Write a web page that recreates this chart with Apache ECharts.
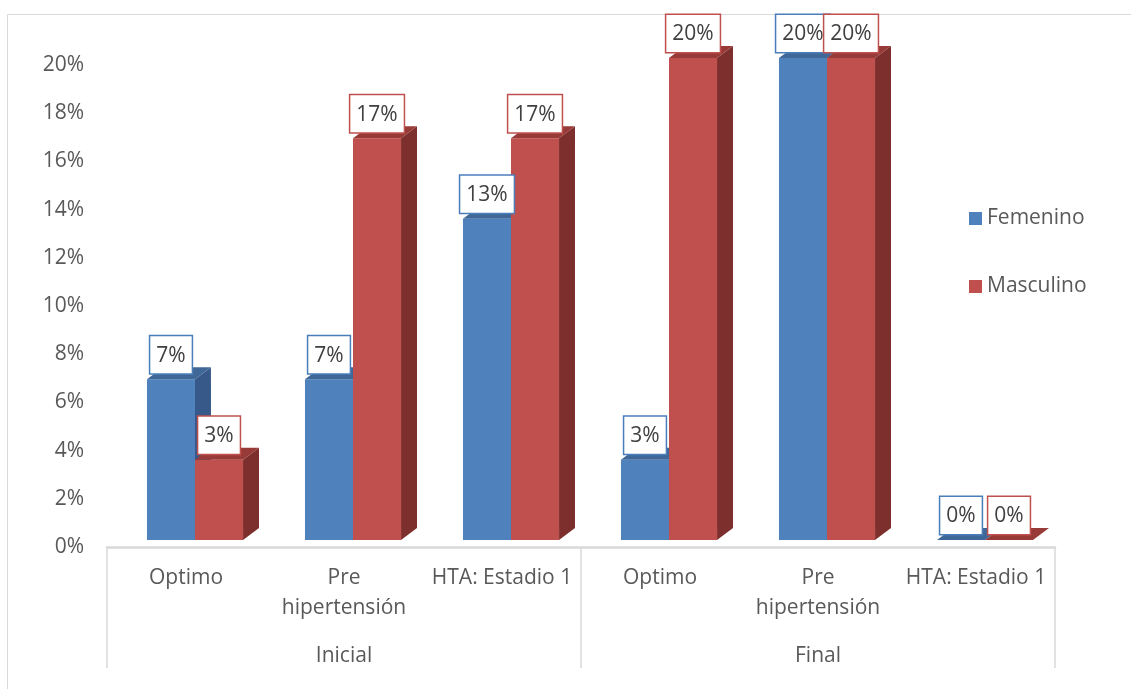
<!DOCTYPE html>
<html>
<head>
<meta charset="utf-8">
<script src="https://cdn.jsdelivr.net/npm/echarts@6/dist/echarts.min.js"></script>
<style>html,body{margin:0;padding:0;background:#fff}#c{width:1131px;height:689px}</style>
</head>
<body>
<div id="c"></div>
<script>
const categories = ['Optimo', 'Pre\nhipertensión', 'HTA: Estadio 1', 'Optimo', 'Pre\nhipertensión', 'HTA: Estadio 1'];
const groups = ['Inicial', 'Final'];
const femenino = [6.67, 6.67, 13.33, 3.33, 20, 0];
const masculino = [3.33, 16.67, 16.67, 20, 20, 0];
const yTicks = { min: 0, max: 20, interval: 2 };

const FONT = '"Open Sans", sans-serif';
const FS = 21;
const chart = echarts.init(document.getElementById('c'), null, { renderer: 'canvas' });

function makeRender(offsetFrac, colors) {
  return function (params, api) {
    const idx = api.value(0);
    const v = api.value(1);
    const base = api.coord([idx, 0]);
    const top = api.coord([idx, v]);
    const bw = api.size([1, 0])[0];
    const w = bw * 0.304;
    const d = bw * 0.101;
    const dy = 12;
    const shift = -7;
    const x0 = base[0] + bw * offsetFrac;
    const y0 = base[1] + shift;
    const y1 = top[1] + shift;
    const label = Math.round(v) + '%';
    return {
      type: 'group',
      children: [
        { type: 'polygon', shape: { points: [[x0 + w, y1], [x0 + w + d, y1 - dy], [x0 + w + d, y0 - dy], [x0 + w, y0]] }, style: { fill: colors.side } },
        { type: 'rect', shape: { x: x0, y: y1, width: w, height: y0 - y1 }, style: { fill: colors.front } },
        { type: 'polygon', shape: { points: [[x0, y1], [x0 + w, y1], [x0 + w + d, y1 - dy], [x0 + d, y1 - dy]] }, style: { fill: colors.top } },
        { type: 'text', z2: 10, style: {
            text: label, x: x0 + w / 2, y: y1 - 6, align: 'center', verticalAlign: 'bottom',
            fill: '#404040', font: FS + 'px ' + FONT,
            backgroundColor: '#fff', borderColor: colors.border, borderWidth: 1.5,
            padding: [9, 6, 7, 6]
        } }
      ]
    };
  };
}

const femData = femenino.map((v, i) => [i, v]);
const mascData = masculino.map((v, i) => [i, v]);

chart.setOption({
  animation: false,
  backgroundColor: '#fff',
  graphic: [{
    type: 'rect', shape: { x: 7.5, y: 14.5, width: 1135, height: 690 },
    style: { fill: 'none', stroke: '#d9d9d9', lineWidth: 1 }, z: -1
  }],
  grid: { left: 107, right: 76, top: 65, bottom: 142 },
  legend: {
    orient: 'vertical', left: 964, top: 203, itemGap: 47,
    itemWidth: 13, itemHeight: 13, icon: 'rect', itemTextGap: 6,
    textStyle: { fontFamily: FONT, fontSize: FS, color: '#595959' },
    data: ['Femenino', 'Masculino']
  },
  xAxis: [{
    type: 'category', data: categories, position: 'bottom',
    axisLine: { show: true, lineStyle: { color: '#d9d9d9', width: 2.5 } },
    axisTick: { show: false },
    axisLabel: { fontFamily: FONT, fontSize: FS, color: '#595959', lineHeight: 30, margin: 16, interval: 0 }
  }, {
    type: 'category', data: groups, position: 'bottom',
    axisLine: { show: false },
    axisTick: { show: true, length: 121, lineStyle: { color: '#d9d9d9', width: 1.5 } },
    axisLabel: { fontFamily: FONT, fontSize: FS, color: '#595959', margin: 99 }
  }],
  yAxis: {
    type: 'value', min: yTicks.min, max: yTicks.max, interval: yTicks.interval,
    axisLine: { show: false }, axisTick: { show: false }, splitLine: { show: false },
    axisLabel: { fontFamily: FONT, fontSize: FS, color: '#595959', margin: 23, formatter: '{value}%' }
  },
  series: [{
    name: 'Femenino', type: 'custom', data: femData, encode: { x: 0, y: 1 },
    itemStyle: { color: '#4F81BD' },
    renderItem: makeRender(-0.247, { front: '#4F81BD', side: '#36598A', top: '#3F6898', border: '#4A7EBB' })
  }, {
    name: 'Masculino', type: 'custom', data: mascData, encode: { x: 0, y: 1 },
    itemStyle: { color: '#C0504D' },
    renderItem: makeRender(0.057, { front: '#C0504D', side: '#7D2F2D', top: '#983B38', border: '#C0504D' })
  }]
});
</script>
</body>
</html>
